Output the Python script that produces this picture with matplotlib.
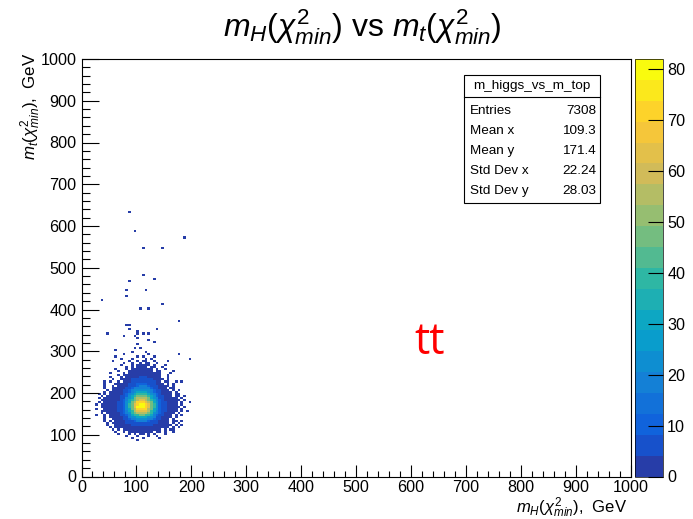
import numpy as np
import matplotlib
matplotlib.use("Agg")
import matplotlib.pyplot as plt
from matplotlib.colors import ListedColormap, BoundaryNorm, LinearSegmentedColormap
from matplotlib.patches import Rectangle
from matplotlib.lines import Line2D

plt.rcParams['font.family'] = ['Liberation Sans', 'DejaVu Sans']
plt.rcParams['mathtext.fontset'] = 'custom'
plt.rcParams['mathtext.rm'] = 'Liberation Sans'
plt.rcParams['mathtext.it'] = 'Liberation Sans:italic'

# code letter -> bin content, used by the cell map below
level_counts = {'.': 0, '1': 1, '2': 2, '3': 3, '4': 5, '5': 8, '6': 12, '7': 17,
                '8': 23, '9': 30, 'A': 38, 'B': 46, 'C': 54, 'D': 62, 'E': 70, 'F': 78}

# dense part of the histogram, 5 GeV cells: columns m_H = 20..200, rows m_t from 300 down to 85
core_x0 = 20
core_y_top = 300
core_rows = [
    "..............1....1................",
    "...........1........1..........1....",
    "........1.......1.1...1.............",
    "..........1...1....1.1.............1",
    ".......1.....1..1.11..1....1........",
    "...........1..1..1.11..1............",
    "..........1...1.11112.1...1.........",
    "............1.1.2112.11..1..........",
    "........1...1.11222211.1..1.........",
    ".........1...111222322.11....1......",
    "......1....1.112233322111...1.......",
    ".........1.11222333332211..1........",
    "......1...1.1123344433211..1........",
    ".......1..1123444554443211.1........",
    "....1.1..1.12345555554432.11..1.1...",
    "....1...111234556666554321.1.1......",
    "....1..1.1123455677765543211.1......",
    "....1..11123456777777654321.11......",
    ".....1.112345678888887654321.1.1....",
    "....1.11123456789999876543211.1.....",
    "..1.1.1122356789AAAA987653221.11....",
    "...1.1112345689ABBBBA98654321.11.1..",
    "..1.11122345789BCCCCB9875432111.1...",
    "...11112235679ABCDDCBA9764322111.1..",
    "..1.1112345689BCEEEDCB986543211.1..1",
    ".1.1112234568ABDEFFEDBA86543211.1...",
    "...1111234568ABDFFFEDBA865432111.1..",
    ".1..1112345689BCEEEECB986543211.1...",
    "...11112345679ACDDDDCA976543211.1.1.",
    "...1.111234678ABCCCCBA87643211.1....",
    ".1..1.112345679AABBAA97654321.1.1...",
    "....1.11123457889999887543211.1.....",
    "....1..111345677888877654211.1......",
    "....1.1.11234556777765543221.11.1...",
    ".....1.112234445555554443221.1.1....",
    ".....1..112233444444443332211.1.1...",
    "......1.11122233333333222111.1.1....",
    ".......1.1.11222222222211.1.11......",
    "........1..1.112111211.11.1..1......",
    ".........1...1.1.11.1.1...1.........",
    "............1...1...1..1............",
    "..............1...1.....1...........",
    "................1...................",
]

# isolated single entries above the dense part, in GeV
stray_x = [85, 96, 186, 110, 146, 110, 131, 86, 81, 116, 81, 35, 146, 106, 121, 176,
           81, 86, 86, 101, 136, 46, 110, 121, 101, 76, 96, 101, 100, 63, 97, 106, 121, 131]
stray_y = [630, 585, 574, 545, 545, 480, 474, 469, 445, 449, 434, 420, 414, 404, 404, 374,
           364, 364, 354, 349, 354, 344, 344, 344, 340, 335, 335, 330, 318, 303, 305, 308, 325, 320]

hist_name = "m_higgs_vs_m_top"
stats_rows = [("Entries", "7308"), ("Mean x", "109.3"), ("Mean y", "171.4"),
              ("Std Dev x", "22.24"), ("Std Dev y", "28.03")]

# fill the 200x200 histogram
nbins = 200
edges = np.linspace(0, 1000, nbins + 1)
H = np.zeros((nbins, nbins))
for k, row in enumerate(core_rows):
    iy = (core_y_top - 5 * (k + 1)) // 5
    for c, ch in enumerate(row):
        H[core_x0 // 5 + c, iy] += level_counts[ch]
for x, y in zip(stray_x, stray_y):
    H[int(x // 5), int(y // 5)] += 1

# ROOT kBird palette, 20 contour colours
stops = [0.0, 0.125, 0.25, 0.375, 0.5, 0.625, 0.75, 0.875, 1.0]
red = [0.2082, 0.0592, 0.0780, 0.0232, 0.1802, 0.5301, 0.8186, 0.9956, 0.9764]
green = [0.1664, 0.3599, 0.5041, 0.6419, 0.7178, 0.7492, 0.7328, 0.7862, 0.9832]
blue = [0.5293, 0.8684, 0.8385, 0.7914, 0.6425, 0.4662, 0.3499, 0.1968, 0.0539]
bird = LinearSegmentedColormap.from_list(
    "bird", [(s, (r, g, b)) for s, r, g, b in zip(stops, red, green, blue)], N=255)
ncont = 20
cols = [bird(int((i + 0.99) * 255 / ncont) / 254.0) for i in range(ncont)]
cmap = ListedColormap(cols)
zmax = 1.05 * H.max()
norm = BoundaryNorm(np.linspace(0, zmax, ncont + 1), ncont)

W, Hpx = 693, 519
fig = plt.figure(figsize=(W / 100, Hpx / 100), dpi=100)


def fx(px):
    return px / W


def fy(py):
    return 1 - py / Hpx


left, right, top, bottom = 81.5, 630.5, 59, 476.5
ax = fig.add_axes([fx(left), fy(bottom), fx(right) - fx(left), fy(top) - fy(bottom)])
ax.pcolormesh(edges, edges, np.ma.masked_equal(H.T, 0), cmap=cmap, norm=norm)
ax.set_xlim(0, 1000)
ax.set_ylim(0, 1000)
ax.set_xticks(np.arange(0, 1001, 100))
ax.set_yticks(np.arange(0, 1001, 100))
ax.set_xticks(np.arange(0, 1001, 20), minor=True)
ax.set_yticks(np.arange(0, 1001, 20), minor=True)
ax.tick_params(axis='x', which='major', direction='in', length=9, width=0.8, pad=2.5, labelsize=11.6)
ax.tick_params(axis='x', which='minor', direction='in', length=4.5, width=0.8)
ax.tick_params(axis='y', which='major', direction='in', length=12, width=0.8, pad=3.5, labelsize=11.6)
ax.tick_params(axis='y', which='minor', direction='in', length=6, width=0.8)
for sp in ax.spines.values():
    sp.set_linewidth(0.8)

# palette axis
cax = fig.add_axes([fx(635), fy(bottom), fx(663) - fx(635), fy(top) - fy(bottom)])
cb = fig.colorbar(ax.collections[0], cax=cax, ticks=np.arange(0, 81, 10))
cb.outline.set_linewidth(0.5)
cax.yaxis.set_ticks_position('right')
cax.tick_params(direction='in', length=11, width=0.8, pad=3, labelsize=11.6)
cax.minorticks_off()

# titles and labels
fig.text(fx(362), fy(27), r'$m_{H}(\chi^{2}_{min})$ vs $m_{t}(\chi^{2}_{min})$',
         ha='center', va='center', fontsize=23)
fig.text(fx(627), fy(512.5), r'$m_{H}(\chi^{2}_{min})$,  GeV', ha='right', va='baseline', fontsize=12)
fig.text(fx(31), fy(53), r'$m_{t}(\chi^{2}_{min})$,  GeV', ha='center', va='top',
         rotation=90, fontsize=12.2)
ax.text(635, 320, "tt", color='red', fontsize=31, ha='center', va='center',
        family=['Open Sans', 'DejaVu Sans'])

# statistics box
bx0, by0, bx1, by1 = 464, 75, 600, 203
fig.patches.append(Rectangle((fx(bx0), fy(by1)), fx(bx1) - fx(bx0), fy(by0) - fy(by1),
                             transform=fig.transFigure, facecolor='white',
                             edgecolor='black', linewidth=0.8, zorder=5))
fig.lines.append(Line2D([fx(bx0), fx(bx1)], [fy(97), fy(97)], transform=fig.transFigure,
                        color='black', linewidth=0.8, zorder=6))
fig.text(fx((bx0 + bx1) / 2), fy(86), hist_name, ha='center', va='center', fontsize=9.7, zorder=7)
for i, (name, val) in enumerate(stats_rows):
    yy = fy(111 + 20 * i)
    fig.text(fx(470), yy, name, ha='left', va='center', fontsize=9.7, zorder=7)
    fig.text(fx(596), yy, val, ha='right', va='center', fontsize=9.7, zorder=7)

fig.savefig("out.png", dpi=100)
